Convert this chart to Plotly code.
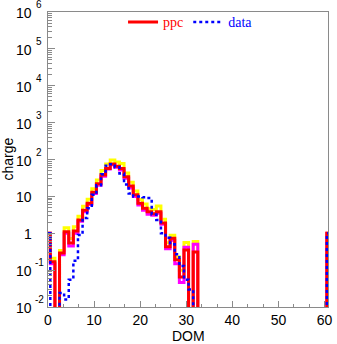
import plotly.graph_objects as go

# ---- data (DOM index, charge per DOM) ----
dom_main = list(range(0, 33))
dom_extra = [61]

ppc = [1.0, 0.17, 0, 0.29, 1.1, 0.54, 1.15, 2.3, 4.2, 6.5,
       13, 22, 38, 57, 75, 66, 57, 34, 19, 11,
       6.5, 4.8, 3.8, 3.4, 3.8, 1.9, 0.43, 0.73, 0.19, 0.065,
       0.35, 0, 0.31]
ppc_extra = [1.0]

upper = [1.0, 0.21, 0, 0.34, 1.4, 0.72, 1.5, 2.9, 5.4, 8.4,
         16, 28, 50, 75, 97, 85, 78, 43, 24, 14,
         8.2, 6.2, 4.6, 4.4, 5.5, 2.4, 0.55, 0.88, 0.23, 0.1,
         0.56, 0, 0.6]
upper_extra = [1.0]

lower = [1.0, 0.15, 0, 0.26, 1.0, 0.45, 1.0, 2.1, 3.8, 6.0,
         12, 20, 35, 55, 72, 62, 52, 31, 17, 10,
         5.8, 4.2, 3.3, 3.1, 3.5, 1.75, 0.38, 0.65, 0.15, 0.046,
         0.42, 0, 0.5]
lower_extra = [1.0]

data = [1.0, 0, 0, 0.024, 0.016, 0.055, 0.18, 0.9, 2.6, 4.8,
        11, 20, 40, 68, 74, 62, 42, 21, 12, 10,
        10, 9.5, 9, 3.2, 2.3, 1.0, 0.75, 0.5, 0.27, 0.13,
        0.055, 0.03, 0]
data_extra = [1.0]

y_exponents = [-2, -1, 0, 1, 2, 3, 4, 5, 6]
x_ticks = [0, 10, 20, 30, 40, 50, 60]

FLOOR = 1e-4  # empty bins drawn below the visible range


def full(vals, extra):
    n = max(dom_extra) + 1
    xs = list(range(n))
    ys = [FLOOR] * n
    for d, v in zip(dom_main, vals):
        ys[d] = v if v > 0 else FLOOR
    for d, v in zip(dom_extra, extra):
        ys[d] = v if v > 0 else FLOOR
    return xs, ys


fig = go.Figure()

series = [
    ("upper", upper, upper_extra, "#ffff00", 3, "solid", False),
    ("lower", lower, lower_extra, "#ff00ff", 3, "solid", False),
    ('<span style="color:#ff0000">ppc</span>', ppc, ppc_extra, "#ff0000", 3, "solid", True),
    ('<span style="color:#0000ff">data</span>', data, data_extra, "#0000ff", 2.5, "3px,3px", True),
]
for name, vals, extra, col, w, dash, sl in series:
    xs, ys = full(vals, extra)
    fig.add_trace(go.Scatter(x=xs, y=ys, mode="lines", name=name,
                             line=dict(color=col, width=w, dash=dash, shape="hvh"),
                             showlegend=sl, hoverinfo="skip"))

axcol = "#8a8a8a"
fig.update_layout(
    width=337, height=344,
    margin=dict(l=48, r=5, t=12, b=37),
    plot_bgcolor="white", paper_bgcolor="white",
    font=dict(family="Liberation Sans, Arial, sans-serif", size=14, color="black"),
    showlegend=True,
    legend=dict(orientation="h", x=0.268, xanchor="left", y=0.965, yanchor="middle",
                bgcolor="rgba(0,0,0,0)", borderwidth=0,
                font=dict(family="Liberation Serif, Times New Roman, serif", size=14),
                itemwidth=30, tracegroupgap=0),
    xaxis=dict(range=[0, 60.75], showgrid=False, zeroline=False,
               showline=True, linecolor=axcol, linewidth=1, mirror=True,
               ticks="inside", ticklen=6, tickcolor=axcol,
               tickmode="array", tickvals=x_ticks,
               tickfont=dict(size=14, color="black"),
               minor=dict(ticks="inside", ticklen=3, tickcolor=axcol, dtick=10/3, tick0=0, showgrid=False)),
    yaxis=dict(type="log", range=[-2, 6], showgrid=False, zeroline=False,
               showline=True, linecolor=axcol, linewidth=1, mirror=True,
               ticks="inside", ticklen=7, tickcolor=axcol,
               tickmode="array", tickvals=[10.0 ** e for e in y_exponents],
               showticklabels=False,
               minor=dict(ticks="inside", ticklen=4, tickcolor=axcol, dtick="D1", showgrid=False)),
)

# y tick labels in ROOT style: "10" with raised exponent
for e in y_exponents:
    base = "1" if e == 0 else "10"
    fig.add_annotation(x=0, xref="paper", y=e, yref="y", text=base, showarrow=False,
                       xanchor="right", yanchor="middle", xshift=-14, yshift=-1,
                       font=dict(size=14, color="black"))
    if e not in (0, 1):
        fig.add_annotation(x=0, xref="paper", y=e, yref="y", text=str(e), showarrow=False,
                           xanchor="left", yanchor="middle", xshift=-14 if e < 0 else -13,
                           yshift=7.5, borderpad=0,
                           font=dict(size=10, color="black"))

# axis titles
fig.add_annotation(x=0.5, xref="paper", y=0, yref="paper", text="DOM", showarrow=False,
                   xanchor="center", yanchor="middle", yshift=-29, borderpad=0,
                   font=dict(size=14, color="black"))
fig.add_annotation(x=0, xref="paper", y=0.5, yref="paper", text="charge", showarrow=False,
                   textangle=-90, xanchor="center", yanchor="middle", xshift=-41,
                   font=dict(size=14, color="black"))

fig.write_html("out.html")
